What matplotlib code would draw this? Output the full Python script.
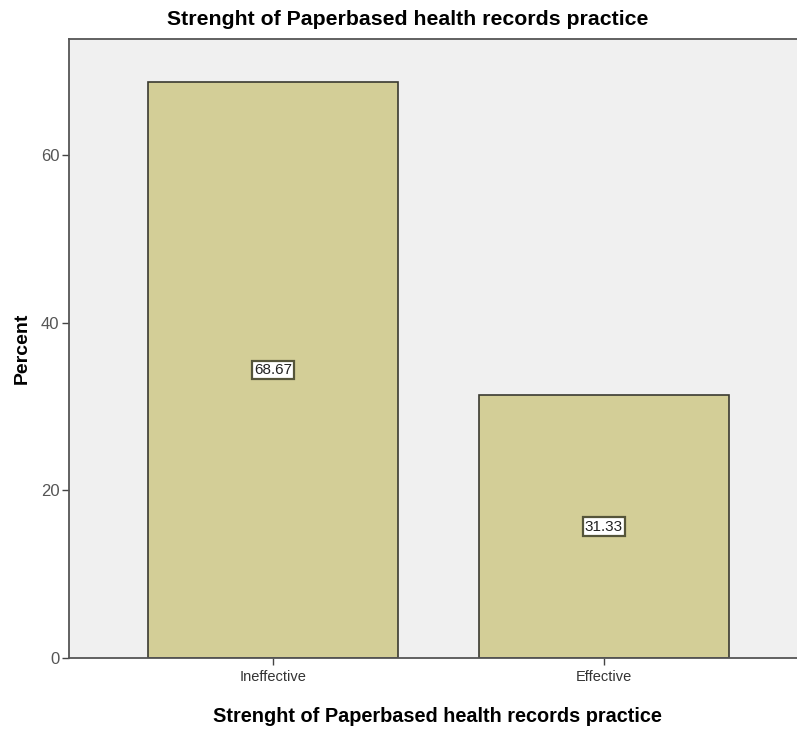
import matplotlib.pyplot as plt

# Paper-based health records practice, percent of respondents
categories = ['Ineffective', 'Effective']
percent = [68.67, 31.33]
y_ticks = [0, 20, 40, 60]

title = 'Strenght of Paperbased health records practice'
font = ['Liberation Sans', 'DejaVu Sans']

fig = plt.figure(figsize=(7.97, 7.29), dpi=100)
ax = fig.add_axes([0.0866, 0.0974, 0.9134, 0.849])
ax.set_facecolor('#f0f0f0')

x = list(range(len(categories)))
ax.bar(x, percent, width=0.755, color='#d3ce97', edgecolor='#3a3a30', linewidth=1.2)

# value boxes in the middle of each bar
for xi, val in zip(x, percent):
    ax.text(xi, val / 2, f'{val:.2f}', ha='center', va='center', fontsize=11,
            family=font, color='#222222',
            bbox=dict(boxstyle='square,pad=0.15', facecolor='white',
                      edgecolor='#55553a', linewidth=1.6))

ax.set_xlim(-0.616, 1.583)
ax.set_ylim(0, 73.8)
ax.set_xticks(x)
ax.set_xticklabels(categories, family=font, fontsize=10.5, color='#333333')
ax.set_yticks(y_ticks)
ax.set_yticklabels([str(t) for t in y_ticks], family=font, fontsize=12, color='#555555')
ax.tick_params(axis='both', length=5, width=1, color='#444444')
ax.tick_params(axis='y', pad=2)

for side in ['left', 'bottom', 'top']:
    ax.spines[side].set_color('#555555')
    ax.spines[side].set_linewidth(1.3)
ax.spines['right'].set_visible(False)

ax.set_xlabel(title, family=font, fontsize=14.3, fontweight='bold', va='center')
ax.xaxis.set_label_coords(0.5055, -0.0953)
ax.set_ylabel('Percent', family=font, fontsize=14, fontweight='bold', va='center')
ax.yaxis.set_label_coords(-0.0646, 0.5)
fig.text(0.512, 0.973, title, ha='center', va='center', family=font,
         fontsize=15.3, fontweight='bold')

fig.savefig('out.png', dpi=100)
